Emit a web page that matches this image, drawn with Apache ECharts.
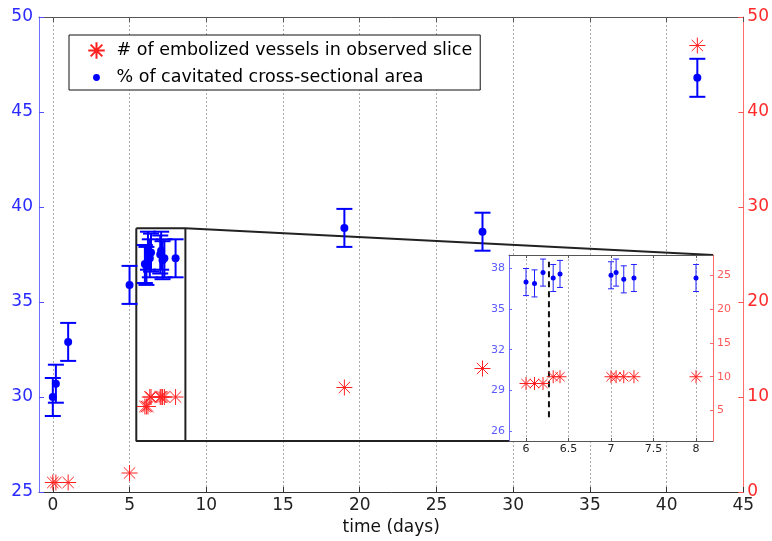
<!DOCTYPE html>
<html>
<head>
<meta charset="utf-8">
<title>Embolized vessels / cavitated area vs time</title>
<script src="https://cdn.jsdelivr.net/npm/echarts@6/dist/echarts.min.js"></script>
<style>
  html, body { margin: 0; padding: 0; background: #fff; }
  #chart { width: 772px; height: 541px; }
</style>
</head>
<body>
<div id="chart"></div>
<script>
// observation times (days)
const days = [0, 0.2, 1, 5, 6, 6.1, 6.2, 6.32, 6.4, 7, 7.06, 7.15, 7.27, 8, 19, 28, 42];
// % of cavitated cross-sectional area (left axis)
const cavitated = [30.0, 30.7, 32.9, 35.9, 37.0, 36.9, 37.7, 37.3, 37.6, 37.5, 37.7, 37.2, 37.3, 37.3, 38.9, 38.7, 46.8];
// half height of the error bars
const cavitatedErr = [1, 1, 1, 1, 1, 1, 1, 1, 1, 1, 1, 1, 1, 1, 1, 1, 1];
// # of embolized vessels in observed slice (right axis)
const embolized = [1, 1, 1, 2, 9, 9, 9, 10, 10, 10, 10, 10, 10, 10, 11, 13, 47];

// tick values
const xTicks = [0, 5, 10, 15, 20, 25, 30, 35, 40, 45];
const insetXTicks = [6, 6.5, 7, 7.5, 8];
const insetLeftTicks = [26, 29, 32, 35, 38];
const insetRightTicks = [5, 10, 15, 20, 25];

// zoomed region (box on the main plot) and inset ranges
const zoomDays = [5.44, 8.64];
const zoomPct = [27.68, 38.88];
const insetDays = [5.8, 8.2];
const insetPct = [25.25, 39];
const insetCount = [0.5, 28];

// dashed marker inside the inset
const markerDay = 6.27;
const markerPct = [27, 38.5];

const nameCount = '# of embolized vessels in observed slice';
const namePct = '% of cavitated cross-sectional area';

const FONT = 'DejaVu Sans';
const STAR = 'path://M0,-10L0,10M-10,0L10,0M-7.07,-7.07L7.07,7.07M-7.07,7.07L7.07,-7.07';
// legend icons padded so they keep a sensible size
const STAR_ICON = 'path://M-11.5,-11.5L-11.5,-11.5M11.5,11.5L11.5,11.5' + STAR.slice(7);
const DOT_ICON = 'path://M-10,-10L-10,-10M10,10L10,10M-3.6,0A3.6,3.6 0 1,0 3.6,0A3.6,3.6 0 1,0 -3.6,0Z';

// inset placement in pixels
const insetBox = { left: 509, top: 255, right: 59, bottom: 100 };

const mainBars = days.map((d, i) => [d, cavitated[i] - cavitatedErr[i], cavitated[i] + cavitatedErr[i]]);
const mainPct = days.map((d, i) => [d, cavitated[i]]);
const mainCount = days.map((d, i) => [d, embolized[i]]);

const inInset = days.map((d, i) => i).filter(i => days[i] >= insetDays[0] && days[i] <= insetDays[1]);
const insetBars = inInset.map(i => mainBars[i]);
const insetPctData = inInset.map(i => mainPct[i]);
const insetCountData = inInset.map(i => mainCount[i]);

function errorBars(capHalf, width, color) {
  return function (params, api) {
    const x = api.value(0);
    const top = api.coord([x, api.value(2)]);
    const bot = api.coord([x, api.value(1)]);
    const style = { stroke: color, lineWidth: width, fill: null };
    return {
      type: 'group',
      children: [
        { type: 'line', shape: { x1: top[0], y1: top[1], x2: bot[0], y2: bot[1] }, style: style },
        { type: 'line', shape: { x1: top[0] - capHalf, y1: top[1], x2: top[0] + capHalf, y2: top[1] }, style: style },
        { type: 'line', shape: { x1: bot[0] - capHalf, y1: bot[1], x2: bot[0] + capHalf, y2: bot[1] }, style: style }
      ]
    };
  };
}

const chart = echarts.init(document.getElementById('chart'));

const option = {
  animation: false,
  backgroundColor: '#fff',
  textStyle: { fontFamily: FONT },
  legend: {
    left: 69,
    top: 35,
    orient: 'vertical',
    selectedMode: false,
    backgroundColor: '#fff',
    borderColor: '#111',
    borderWidth: 1,
    padding: [5, 8, 3, 17],
    itemGap: 7,
    itemWidth: 30,
    itemHeight: 19,
    textStyle: { fontFamily: FONT, fontSize: 17.5, color: '#000' },
    data: [
      { name: nameCount, icon: STAR_ICON },
      { name: namePct, icon: DOT_ICON }
    ],
    z: 10
  },
  grid: [
    { left: 39, right: 27, top: 17, bottom: 49 },
    Object.assign({ show: true, backgroundColor: '#fff', borderWidth: 0, z: 1 }, insetBox)
  ],
  xAxis: [
    {
      type: 'value', gridIndex: 0, position: 'bottom', min: -0.9, max: 45,
      name: 'time (days)', nameLocation: 'middle', nameGap: 24,
      nameTextStyle: { fontFamily: FONT, fontSize: 17, color: '#111' },
      axisLine: { onZero: false, lineStyle: { color: '#333', width: 1 } },
      axisTick: { inside: true, length: 5, customValues: xTicks, lineStyle: { color: '#333' } },
      axisLabel: { customValues: xTicks, margin: 5, fontFamily: FONT, fontSize: 17, color: '#222' },
      splitLine: { show: true, lineStyle: { color: '#aaa', type: [2, 2], width: 1 } }
    },
    {
      type: 'value', gridIndex: 0, position: 'top', min: -0.9, max: 45,
      axisLine: { onZero: false, lineStyle: { color: '#555', width: 1 } },
      axisTick: { inside: true, length: 5, customValues: xTicks, lineStyle: { color: '#555' } },
      axisLabel: { show: false },
      splitLine: { show: false }
    },
    {
      type: 'value', gridIndex: 1, position: 'bottom', min: insetDays[0], max: insetDays[1], z: 3,
      axisLine: { onZero: false, lineStyle: { color: '#555', width: 1 } },
      axisTick: { inside: true, length: 3, customValues: insetXTicks, lineStyle: { color: '#555' } },
      axisLabel: { customValues: insetXTicks, margin: 3, fontFamily: FONT, fontSize: 11, color: '#222' },
      splitLine: { show: true, lineStyle: { color: '#aaa', type: [2, 2], width: 1 } }
    },
    {
      type: 'value', gridIndex: 1, position: 'top', min: insetDays[0], max: insetDays[1], z: 3,
      axisLine: { onZero: false, lineStyle: { color: '#555', width: 1 } },
      axisTick: { inside: true, length: 3, customValues: insetXTicks, lineStyle: { color: '#555' } },
      axisLabel: { show: false },
      splitLine: { show: false }
    }
  ],
  yAxis: [
    {
      type: 'value', gridIndex: 0, position: 'left', min: 25, max: 50, interval: 5,
      axisLine: { show: true, onZero: false, lineStyle: { color: '#7070ff', width: 1 } },
      axisTick: { show: true, inside: true, length: 5, lineStyle: { color: '#5050ff' } },
      axisLabel: { margin: 6, fontFamily: FONT, fontSize: 17, color: '#2a2aff' },
      splitLine: { show: false }
    },
    {
      type: 'value', gridIndex: 0, position: 'right', min: 0, max: 50, interval: 10,
      axisLine: { show: true, onZero: false, lineStyle: { color: '#ff6a6a', width: 1 } },
      axisTick: { show: true, inside: true, length: 5, lineStyle: { color: '#ff5050' } },
      axisLabel: { margin: 4, fontFamily: FONT, fontSize: 17, color: '#ff2a2a' },
      splitLine: { show: false }
    },
    {
      type: 'value', gridIndex: 1, position: 'left', min: insetPct[0], max: insetPct[1], z: 3,
      axisLine: { show: true, onZero: false, lineStyle: { color: '#6a6aff', width: 1 } },
      axisTick: { show: true, inside: true, length: 3, customValues: insetLeftTicks, lineStyle: { color: '#6a6aff' } },
      axisLabel: { customValues: insetLeftTicks, margin: 4, fontFamily: FONT, fontSize: 11, color: '#5a5aff' },
      splitLine: { show: false }
    },
    {
      type: 'value', gridIndex: 1, position: 'right', min: insetCount[0], max: insetCount[1], z: 3,
      axisLine: { show: true, onZero: false, lineStyle: { color: '#ff6a6a', width: 1 } },
      axisTick: { show: true, inside: true, length: 3, customValues: insetRightTicks, lineStyle: { color: '#ff6a6a' } },
      axisLabel: { customValues: insetRightTicks, margin: 4, fontFamily: FONT, fontSize: 11, color: '#ff5a5a' },
      splitLine: { show: false }
    }
  ],
  series: [
    {
      name: 'zoom box', type: 'line', xAxisIndex: 0, yAxisIndex: 0, z: 1,
      symbol: 'none', silent: true,
      lineStyle: { color: '#222', width: 2 },
      data: [
        [zoomDays[0], zoomPct[1]], [zoomDays[1], zoomPct[1]], [zoomDays[1], zoomPct[0]],
        [zoomDays[0], zoomPct[0]], [zoomDays[0], zoomPct[1]]
      ]
    },
    {
      name: 'errors', type: 'custom', xAxisIndex: 0, yAxisIndex: 0, z: 2,
      renderItem: errorBars(8, 2, '#0000ff'),
      encode: { x: 0, y: [1, 2] },
      data: mainBars
    },
    {
      name: namePct, type: 'scatter', xAxisIndex: 0, yAxisIndex: 0, z: 3,
      symbol: 'circle', symbolSize: 8,
      itemStyle: { color: '#0000ff', opacity: 1 },
      data: mainPct
    },
    {
      name: nameCount, type: 'scatter', xAxisIndex: 0, yAxisIndex: 1, z: 3,
      symbol: STAR, symbolSize: 16, symbolKeepAspect: true,
      itemStyle: { color: '#ff0000', borderColor: '#ff2020', borderWidth: 1, opacity: 1 },
      data: mainCount
    },
    {
      name: 'inset errors', type: 'custom', xAxisIndex: 2, yAxisIndex: 2, z: 4,
      renderItem: errorBars(3, 1, '#2020ff'),
      encode: { x: 0, y: [1, 2] },
      data: insetBars
    },
    {
      name: 'inset pct', type: 'scatter', xAxisIndex: 2, yAxisIndex: 2, z: 5,
      symbol: 'circle', symbolSize: 5,
      itemStyle: { color: '#0000ff', opacity: 1 },
      data: insetPctData
    },
    {
      name: 'inset count', type: 'scatter', xAxisIndex: 2, yAxisIndex: 3, z: 5,
      symbol: STAR, symbolSize: 13, symbolKeepAspect: true,
      itemStyle: { color: '#ff0000', borderColor: '#ff2020', borderWidth: 1, opacity: 1 },
      data: insetCountData
    },
    {
      name: 'marker', type: 'line', xAxisIndex: 2, yAxisIndex: 2, z: 4,
      symbol: 'none', silent: true,
      lineStyle: { color: '#111', width: 2, type: [6, 4] },
      data: [[markerDay, markerPct[0]], [markerDay, markerPct[1]]]
    }
  ]
};

chart.setOption(option);

// connect the zoom box to the inset corners (inset corners read back in main data units)
const W = chart.getWidth(), H = chart.getHeight();
const insetTopRight = chart.convertFromPixel({ xAxisIndex: 0, yAxisIndex: 0 }, [W - insetBox.right, insetBox.top]);
const insetBottomLeft = chart.convertFromPixel({ xAxisIndex: 0, yAxisIndex: 0 }, [insetBox.left, H - insetBox.bottom]);

chart.setOption({
  series: option.series.concat([
    {
      name: 'connector top', type: 'line', xAxisIndex: 0, yAxisIndex: 0, z: 1,
      symbol: 'none', silent: true,
      lineStyle: { color: '#222', width: 2 },
      data: [[zoomDays[1], zoomPct[1]], insetTopRight]
    },
    {
      name: 'connector bottom', type: 'line', xAxisIndex: 0, yAxisIndex: 0, z: 1,
      symbol: 'none', silent: true,
      lineStyle: { color: '#222', width: 2 },
      data: [[zoomDays[0], zoomPct[0]], insetBottomLeft]
    }
  ])
});
</script>
</body>
</html>
